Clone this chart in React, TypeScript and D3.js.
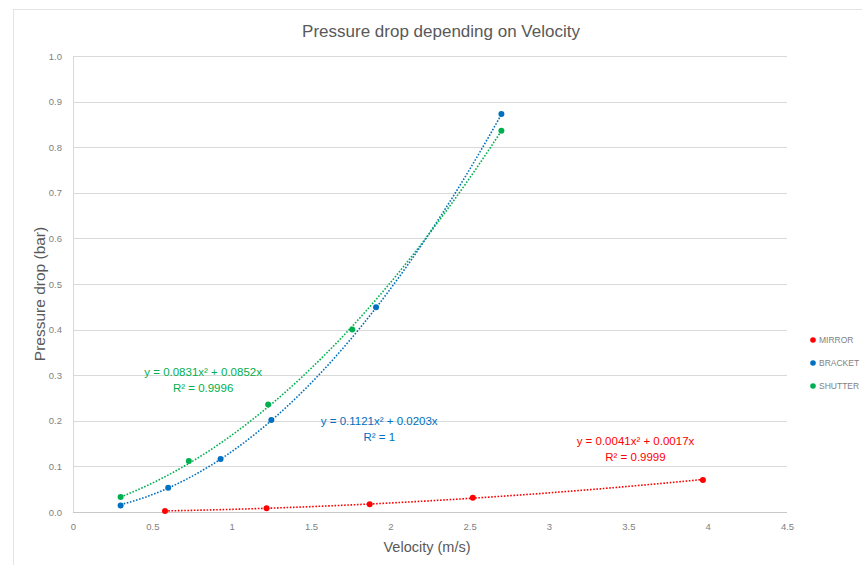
import React, { useEffect, useRef } from "react";
import * as d3 from "d3";

// series
const mirrorX = [0.58, 1.22, 1.87, 2.52, 3.97];
const mirrorY = [0.002, 0.008, 0.017, 0.031, 0.07];
const bracketX = [0.3, 0.6, 0.93, 1.25, 1.91, 2.7];
const bracketY = [0.014, 0.053, 0.116, 0.202, 0.449, 0.873];
const shutterX = [0.3, 0.73, 1.23, 1.76, 2.7];
const shutterY = [0.033, 0.112, 0.236, 0.4, 0.836];

// trendline coefficients (y = a x^2 + b x) as printed on the chart
const mirrorFit = [0.0041, 0.0017];
const bracketFit = [0.1121, 0.0203];
const shutterFit = [0.0831, 0.0852];

const xTicks = [0, 0.5, 1, 1.5, 2, 2.5, 3, 3.5, 4, 4.5];
const yTicks = [0, 0.1, 0.2, 0.3, 0.4, 0.5, 0.6, 0.7, 0.8, 0.9, 1.0];

const series = [
  { name: "MIRROR", color: "#ff0000", xs: mirrorX, ys: mirrorY, fit: mirrorFit, eq: "y = 0.0041x² + 0.0017x", r2: "R² = 0.9999", lx: 3.545, ly: 0.146 },
  { name: "BRACKET", color: "#0070c0", xs: bracketX, ys: bracketY, fit: bracketFit, eq: "y = 0.1121x² + 0.0203x", r2: "R² = 1", lx: 1.93, ly: 0.191 },
  { name: "SHUTTER", color: "#00b050", xs: shutterX, ys: shutterY, fit: shutterFit, eq: "y = 0.0831x² + 0.0852x", r2: "R² = 0.9996", lx: 0.82, ly: 0.298 },
];

const width = 862;
const height = 565;
const font = "'Liberation Sans', Arial, sans-serif";

const App = () => {
  const svgRef = useRef(null);

  useEffect(() => {
    const svg = d3.select(svgRef.current);
    svg.selectAll("*").remove();

    const margin = { top: 56, right: 75, bottom: 53, left: 73 };
    const innerWidth = width - margin.left - margin.right;
    const innerHeight = height - margin.top - margin.bottom;

    const xScale = d3.scaleLinear().domain([0, 4.5]).range([0, innerWidth]);
    const yScale = d3.scaleLinear().domain([0, 1]).range([innerHeight, 0]);

    svg.append("rect").attr("width", width).attr("height", height).attr("fill", "#fff");

    // outer chart frame (only top and left edges are in view)
    svg.append("rect")
      .attr("x", 13.5).attr("y", 9.5)
      .attr("width", width).attr("height", height)
      .attr("fill", "none").attr("stroke", "#e4e4e4");

    svg.append("text")
      .attr("x", 441).attr("y", 37)
      .attr("text-anchor", "middle")
      .attr("font-family", font).attr("font-size", 17)
      .attr("fill", "#595959")
      .text("Pressure drop depending on Velocity");

    const g = svg.append("g").attr("transform", `translate(${margin.left},${margin.top})`);

    // gridlines
    g.append("g")
      .selectAll("line")
      .data(yTicks.slice(1))
      .enter()
      .append("line")
      .attr("x1", 0).attr("x2", innerWidth)
      .attr("y1", (d) => Math.round(yScale(d)) + 0.5)
      .attr("y2", (d) => Math.round(yScale(d)) + 0.5)
      .attr("stroke", "#d9d9d9");

    // axis lines
    g.append("line")
      .attr("x1", 0).attr("x2", innerWidth)
      .attr("y1", innerHeight + 0.5).attr("y2", innerHeight + 0.5)
      .attr("stroke", "#c8c8c8");
    g.append("line")
      .attr("x1", 0.5).attr("x2", 0.5)
      .attr("y1", 0).attr("y2", innerHeight)
      .attr("stroke", "#d9d9d9");

    // y-axis labels
    g.append("g")
      .attr("transform", "translate(-8,0)")
      .call(d3.axisLeft(yScale).tickValues(yTicks).tickFormat(d3.format(".1f")).tickSize(0))
      .call((a) => a.select(".domain").remove())
      .selectAll("text")
      .attr("font-family", font).attr("font-size", 9.5).attr("fill", "#7f7f7f");

    // x-axis labels
    g.append("g")
      .attr("transform", `translate(0,${innerHeight + 8})`)
      .call(d3.axisBottom(xScale).tickValues(xTicks).tickFormat((d) => String(d)).tickSize(0))
      .call((a) => a.select(".domain").remove())
      .selectAll("text")
      .attr("font-family", font).attr("font-size", 9.5).attr("fill", "#7f7f7f");

    svg.append("text")
      .attr("x", 427).attr("y", 552)
      .attr("text-anchor", "middle")
      .attr("font-family", font).attr("font-size", 14.5)
      .attr("fill", "#595959")
      .text("Velocity (m/s)");

    svg.append("text")
      .attr("transform", "translate(45,294) rotate(-90)")
      .attr("text-anchor", "middle")
      .attr("font-family", font).attr("font-size", 15.5)
      .attr("fill", "#595959")
      .text("Pressure drop (bar)");

    const line = d3.line()
      .x((d) => xScale(d[0]))
      .y((d) => yScale(d[1]))
      .curve(d3.curveLinear);

    series.forEach((s) => {
      const x0 = d3.min(s.xs);
      const x1 = d3.max(s.xs);
      const pts = d3.range(0, 61).map((i) => {
        const x = x0 + ((x1 - x0) * i) / 60;
        return [x, s.fit[0] * x * x + s.fit[1] * x];
      });
      g.append("path")
        .datum(pts)
        .attr("fill", "none")
        .attr("stroke", s.color)
        .attr("stroke-width", 1.6)
        .attr("stroke-dasharray", "1.6,1.6")
        .attr("d", line);

      g.selectAll(null)
        .data(s.xs.map((x, i) => [x, s.ys[i]]))
        .enter()
        .append("circle")
        .attr("cx", (d) => xScale(d[0]))
        .attr("cy", (d) => yScale(d[1]))
        .attr("r", 3)
        .attr("fill", s.color);

      const lbl = g.append("text")
        .attr("x", xScale(s.lx)).attr("y", yScale(s.ly))
        .attr("text-anchor", "middle")
        .attr("font-family", font).attr("font-size", 11.5)
        .attr("fill", s.color);
      lbl.append("tspan").attr("x", xScale(s.lx)).attr("dy", 0).text(s.eq);
      lbl.append("tspan").attr("x", xScale(s.lx)).attr("dy", 16).text(s.r2);
    });

    // legend
    const legend = svg.append("g").attr("transform", "translate(813,340)");
    series.forEach((s, i) => {
      const row = legend.append("g").attr("transform", `translate(0,${i * 23})`);
      row.append("circle").attr("r", 2.8).attr("fill", s.color);
      row.append("text")
        .attr("x", 6).attr("y", 3.2)
        .attr("font-family", font).attr("font-size", 8.5)
        .attr("fill", "#7f7f7f")
        .text(s.name);
    });
  }, []);

  return (
    <svg
      ref={svgRef}
      width={width}
      height={height}
      style={{ position: "absolute", left: 0, top: 0 }}
    ></svg>
  );
};

export default App;
